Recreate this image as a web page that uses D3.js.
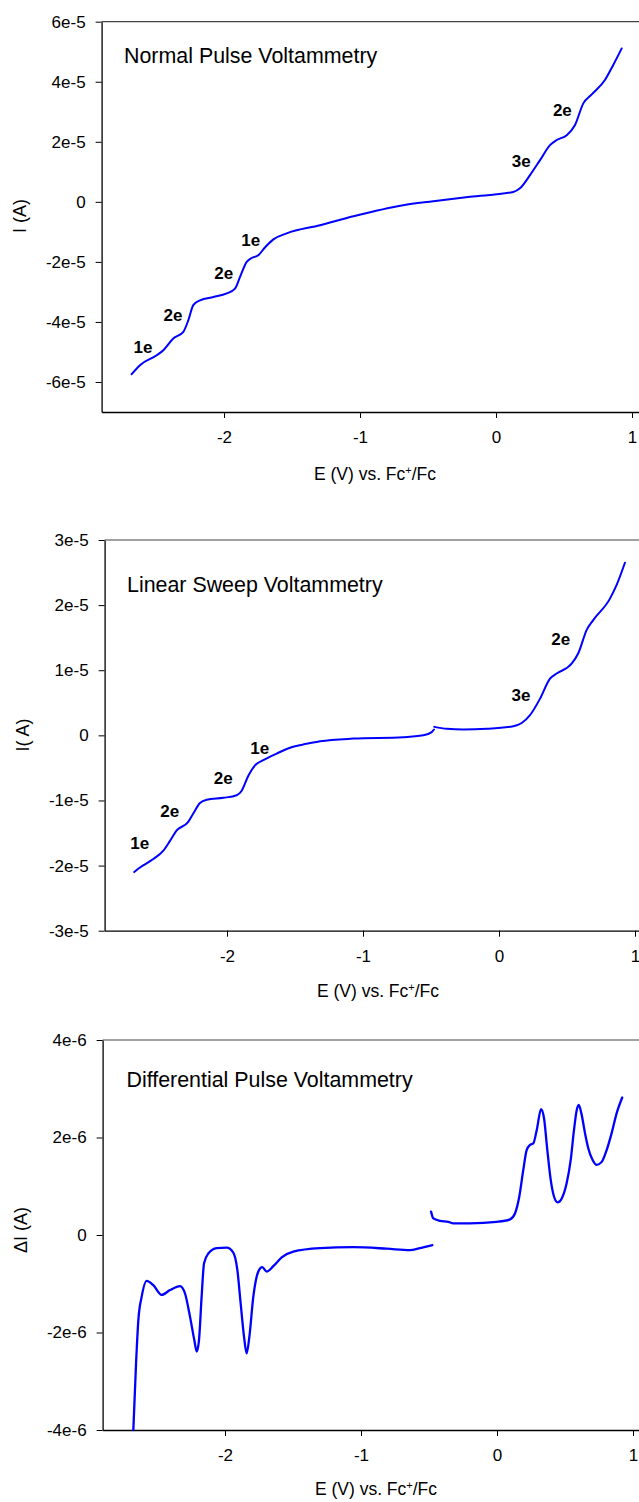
<!DOCTYPE html>
<html>
<head>
<meta charset="utf-8">
<script src="https://cdn.jsdelivr.net/npm/d3@7"></script>
<style>
  html, body { margin: 0; padding: 0; background: #fff; }
  svg { display: block; }
  text { font-family: Arial, "Liberation Sans", sans-serif; fill: #000; }
</style>
</head>
<body>
<svg id="chart" width="639" height="1502"></svg>
<script>
// ---------- DATA ----------
// x ticks shared
const xTicks = [-2, -1, 0, 1];
const xTickLabels = ["-2", "-1", "0", "1"];

// Normal Pulse Voltammetry
const npvE = [-2.679, -2.618, -2.495, -2.446, -2.373, -2.299, -2.262, -2.226, -2.176, -2.078, -1.980, -1.919, -1.882, -1.833, -1.796, -1.748, -1.699, -1.637, -1.539, -1.294, -1.049, -0.682, -0.461, -0.191, 0.127, 0.176, 0.250, 0.324, 0.397, 0.446, 0.520, 0.581, 0.642, 0.704, 0.801, 0.862, 0.924];
const npvI = [-5.74e-5, -5.44e-5, -5.11e-5, -4.94e-5, -4.55e-5, -4.33e-5, -3.94e-5, -3.44e-5, -3.28e-5, -3.17e-5, -3.05e-5, -2.89e-5, -2.50e-5, -2.00e-5, -1.87e-5, -1.78e-5, -1.52e-5, -1.25e-5, -1.05e-5, -0.78e-5, -0.48e-5, -0.11e-5, 0.02e-5, 0.17e-5, 0.33e-5, 0.45e-5, 0.89e-5, 1.39e-5, 1.89e-5, 2.06e-5, 2.22e-5, 2.56e-5, 3.28e-5, 3.58e-5, 4.06e-5, 4.56e-5, 5.11e-5];
const npvYTicks = [-6e-5, -4e-5, -2e-5, 0, 2e-5, 4e-5, 6e-5];
const npvYLabels = ["-6e-5", "-4e-5", "-2e-5", "0", "2e-5", "4e-5", "6e-5"];
const npvNotes = ["1e", "2e", "2e", "1e", "3e", "2e"];
const npvNoteE = [-2.596, -2.375, -2.002, -1.804, 0.186, 0.488];
const npvNoteI = [-4.84e-5, -3.78e-5, -2.38e-5, -1.28e-5, 1.33e-5, 3.03e-5];

// Linear Sweep Voltammetry (two segments)
const lsvE1 = [-2.682, -2.640, -2.542, -2.468, -2.419, -2.370, -2.285, -2.248, -2.199, -2.149, -2.027, -1.929, -1.892, -1.843, -1.794, -1.733, -1.635, -1.537, -1.414, -1.316, -1.071, -0.704, -0.557, -0.495, -0.478];
const lsvI1 = [-2.10e-5, -2.03e-5, -1.90e-5, -1.77e-5, -1.62e-5, -1.46e-5, -1.33e-5, -1.20e-5, -1.04e-5, -0.99e-5, -0.96e-5, -0.92e-5, -0.85e-5, -0.62e-5, -0.46e-5, -0.38e-5, -0.28e-5, -0.19e-5, -0.13e-5, -0.09e-5, -0.05e-5, -0.03e-5, 0.0, 0.05e-5, 0.09e-5];
const lsvE2 = [-0.476, -0.385, -0.262, -0.091, 0.105, 0.167, 0.228, 0.301, 0.375, 0.424, 0.534, 0.583, 0.645, 0.693, 0.816, 0.865, 0.926];
const lsvI2 = [0.13e-5, 0.10e-5, 0.09e-5, 0.10e-5, 0.14e-5, 0.19e-5, 0.31e-5, 0.56e-5, 0.87e-5, 0.95e-5, 1.10e-5, 1.26e-5, 1.62e-5, 1.77e-5, 2.10e-5, 2.31e-5, 2.65e-5];
const lsvYTicks = [-3e-5, -2e-5, -1e-5, 0, 1e-5, 2e-5, 3e-5];
const lsvYLabels = ["-3e-5", "-2e-5", "-1e-5", "0", "1e-5", "2e-5", "3e-5"];
const lsvNotes = ["1e", "2e", "2e", "1e", "3e", "2e"];
const lsvNoteE = [-2.642, -2.421, -2.027, -1.760, 0.162, 0.454];
const lsvNoteI = [-1.657e-5, -1.165e-5, -0.666e-5, -0.195e-5, 0.605e-5, 1.477e-5];

// Differential Pulse Voltammetry (two segments)
const dpvE1 = [-2.674, -2.654, -2.637, -2.613, -2.576, -2.527, -2.466, -2.404, -2.331, -2.294, -2.257, -2.226, -2.208, -2.191, -2.172, -2.154, -2.123, -2.061, -1.988, -1.939, -1.909, -1.885, -1.860, -1.841, -1.821, -1.792, -1.755, -1.726, -1.693, -1.645, -1.583, -1.498, -1.301, -1.057, -0.811, -0.640, -0.566, -0.475];
const dpvI1 = [-4.0e-6, -2.63e-6, -1.74e-6, -1.27e-6, -0.94e-6, -1.03e-6, -1.23e-6, -1.13e-6, -1.05e-6, -1.20e-6, -1.68e-6, -2.15e-6, -2.39e-6, -2.15e-6, -1.27e-6, -0.58e-6, -0.38e-6, -0.27e-6, -0.26e-6, -0.36e-6, -0.72e-6, -1.40e-6, -2.09e-6, -2.43e-6, -2.09e-6, -1.27e-6, -0.75e-6, -0.66e-6, -0.75e-6, -0.64e-6, -0.46e-6, -0.34e-6, -0.27e-6, -0.25e-6, -0.28e-6, -0.31e-6, -0.27e-6, -0.21e-6];
const dpvE2 = [-0.485, -0.468, -0.419, -0.358, -0.321, -0.199, -0.002, 0.096, 0.132, 0.164, 0.193, 0.218, 0.243, 0.267, 0.292, 0.324, 0.346, 0.370, 0.395, 0.419, 0.446, 0.476, 0.512, 0.542, 0.566, 0.586, 0.601, 0.620, 0.647, 0.671, 0.703, 0.733, 0.770, 0.806, 0.843, 0.880, 0.921];
const dpvI2 = [0.48e-6, 0.34e-6, 0.29e-6, 0.27e-6, 0.24e-6, 0.24e-6, 0.27e-6, 0.32e-6, 0.44e-6, 0.79e-6, 1.33e-6, 1.74e-6, 1.85e-6, 1.88e-6, 2.15e-6, 2.58e-6, 2.39e-6, 1.74e-6, 1.13e-6, 0.79e-6, 0.67e-6, 0.75e-6, 1.06e-6, 1.54e-6, 2.15e-6, 2.56e-6, 2.67e-6, 2.50e-6, 2.09e-6, 1.78e-6, 1.54e-6, 1.44e-6, 1.50e-6, 1.74e-6, 2.09e-6, 2.50e-6, 2.82e-6];
const dpvYTicks = [-4e-6, -2e-6, 0, 2e-6, 4e-6];
const dpvYLabels = ["-4e-6", "-2e-6", "0", "2e-6", "4e-6"];

// ---------- DRAW ----------
const svg = d3.select("#chart");
const FONT = "Arial, 'Liberation Sans', sans-serif";

function panel(cfg) {
  const g = svg.append("g");
  const x = d3.scaleLinear().domain([-2.9, 1.1]).range([cfg.left, cfg.left + 544]);
  const y = d3.scaleLinear().domain(cfg.yDomain).range([cfg.bottom, cfg.top]);

  // top frame line
  g.append("line")
    .attr("x1", cfg.left).attr("x2", x(1.1))
    .attr("y1", cfg.top).attr("y2", cfg.top)
    .attr("stroke", "#444").attr("stroke-width", 1.2);

  // x axis
  const xa = g.append("g").attr("transform", `translate(0,${cfg.bottom})`)
    .call(d3.axisBottom(x).tickValues(xTicks).tickFormat((d, i) => xTickLabels[i]).tickSize(6).tickSizeOuter(0).tickPadding(13));
  xa.select(".domain").attr("stroke", "#000").attr("stroke-width", 1.3);
  xa.selectAll(".tick line").attr("stroke", "#000");
  xa.selectAll("text").style("font-size", "17px").attr("font-family", FONT);

  // y axis
  const ya = g.append("g").attr("transform", `translate(${cfg.left},0)`)
    .call(d3.axisLeft(y).tickValues(cfg.yTicks).tickFormat((d, i) => cfg.yLabels[i]).tickSize(6).tickSizeOuter(0).tickPadding(10));
  ya.select(".domain").attr("stroke", "#000").attr("stroke-width", 1.3);
  ya.selectAll(".tick line").attr("stroke", "#000");
  ya.selectAll("text").style("font-size", "17px").attr("font-family", FONT);

  // series
  const line = d3.line().x(d => x(d[0])).y(d => y(d[1])).curve(d3.curveMonotoneX);
  cfg.series.forEach(s => {
    g.append("path")
      .datum(s.E.map((e, i) => [e, s.I[i]]))
      .attr("d", line)
      .attr("fill", "none")
      .attr("stroke", "#0000ff")
      .attr("stroke-width", cfg.lineWidth)
      .attr("stroke-linejoin", "round")
      .attr("stroke-linecap", "round");
  });

  // annotations
  if (cfg.notes) {
    cfg.notes.forEach((t, i) => {
      g.append("text")
        .attr("x", x(cfg.noteE[i])).attr("y", y(cfg.noteI[i]))
        .attr("text-anchor", "middle").attr("dominant-baseline", "central")
        .style("font-size", "17px").style("font-weight", "bold")
        .text(t);
    });
  }

  // panel title
  g.append("text").attr("x", cfg.titleX).attr("y", cfg.titleY)
    .style("font-size", "21.4px").text(cfg.title);

  // x axis title
  const xt = g.append("text").attr("x", cfg.xTitleX).attr("y", cfg.xTitleY)
    .attr("text-anchor", "middle").style("font-size", "17.5px");
  xt.append("tspan").text("E (V) vs. Fc");
  xt.append("tspan").attr("dy", -6).style("font-size", "11px").text("+");
  xt.append("tspan").attr("dy", 6).text("/Fc");

  // y axis title
  g.append("text")
    .attr("transform", `translate(${cfg.yTitleX},${cfg.yTitleY}) rotate(-90)`)
    .attr("text-anchor", "middle").attr("dominant-baseline", "central")
    .style("font-size", "18px").text(cfg.yTitle);
}

panel({
  left: 101.6, top: 21.7, bottom: 412,
  yDomain: [-7e-5, 6e-5], yTicks: npvYTicks, yLabels: npvYLabels,
  series: [{E: npvE, I: npvI}], lineWidth: 2,
  notes: npvNotes, noteE: npvNoteE, noteI: npvNoteI,
  title: "Normal Pulse Voltammetry", titleX: 124, titleY: 63,
  xTitleX: 375, xTitleY: 480, yTitle: "I (A)", yTitleX: 20, yTitleY: 216
});

panel({
  left: 104.6, top: 540, bottom: 930.7,
  yDomain: [-3e-5, 3e-5], yTicks: lsvYTicks, yLabels: lsvYLabels,
  series: [{E: lsvE1, I: lsvI1}, {E: lsvE2, I: lsvI2}], lineWidth: 2,
  notes: lsvNotes, noteE: lsvNoteE, noteI: lsvNoteI,
  title: "Linear Sweep Voltammetry", titleX: 127, titleY: 591.5,
  xTitleX: 378, xTitleY: 997, yTitle: "I( A)", yTitleX: 23, yTitleY: 735
});

panel({
  left: 102.6, top: 1040, bottom: 1430,
  yDomain: [-4e-6, 4e-6], yTicks: dpvYTicks, yLabels: dpvYLabels,
  series: [{E: dpvE1, I: dpvI1}, {E: dpvE2, I: dpvI2}], lineWidth: 2.3,
  title: "Differential Pulse Voltammetry", titleX: 126.5, titleY: 1086.5,
  xTitleX: 376, xTitleY: 1495, yTitle: "ΔI (A)", yTitleX: 21, yTitleY: 1230
});
</script>
</body>
</html>
